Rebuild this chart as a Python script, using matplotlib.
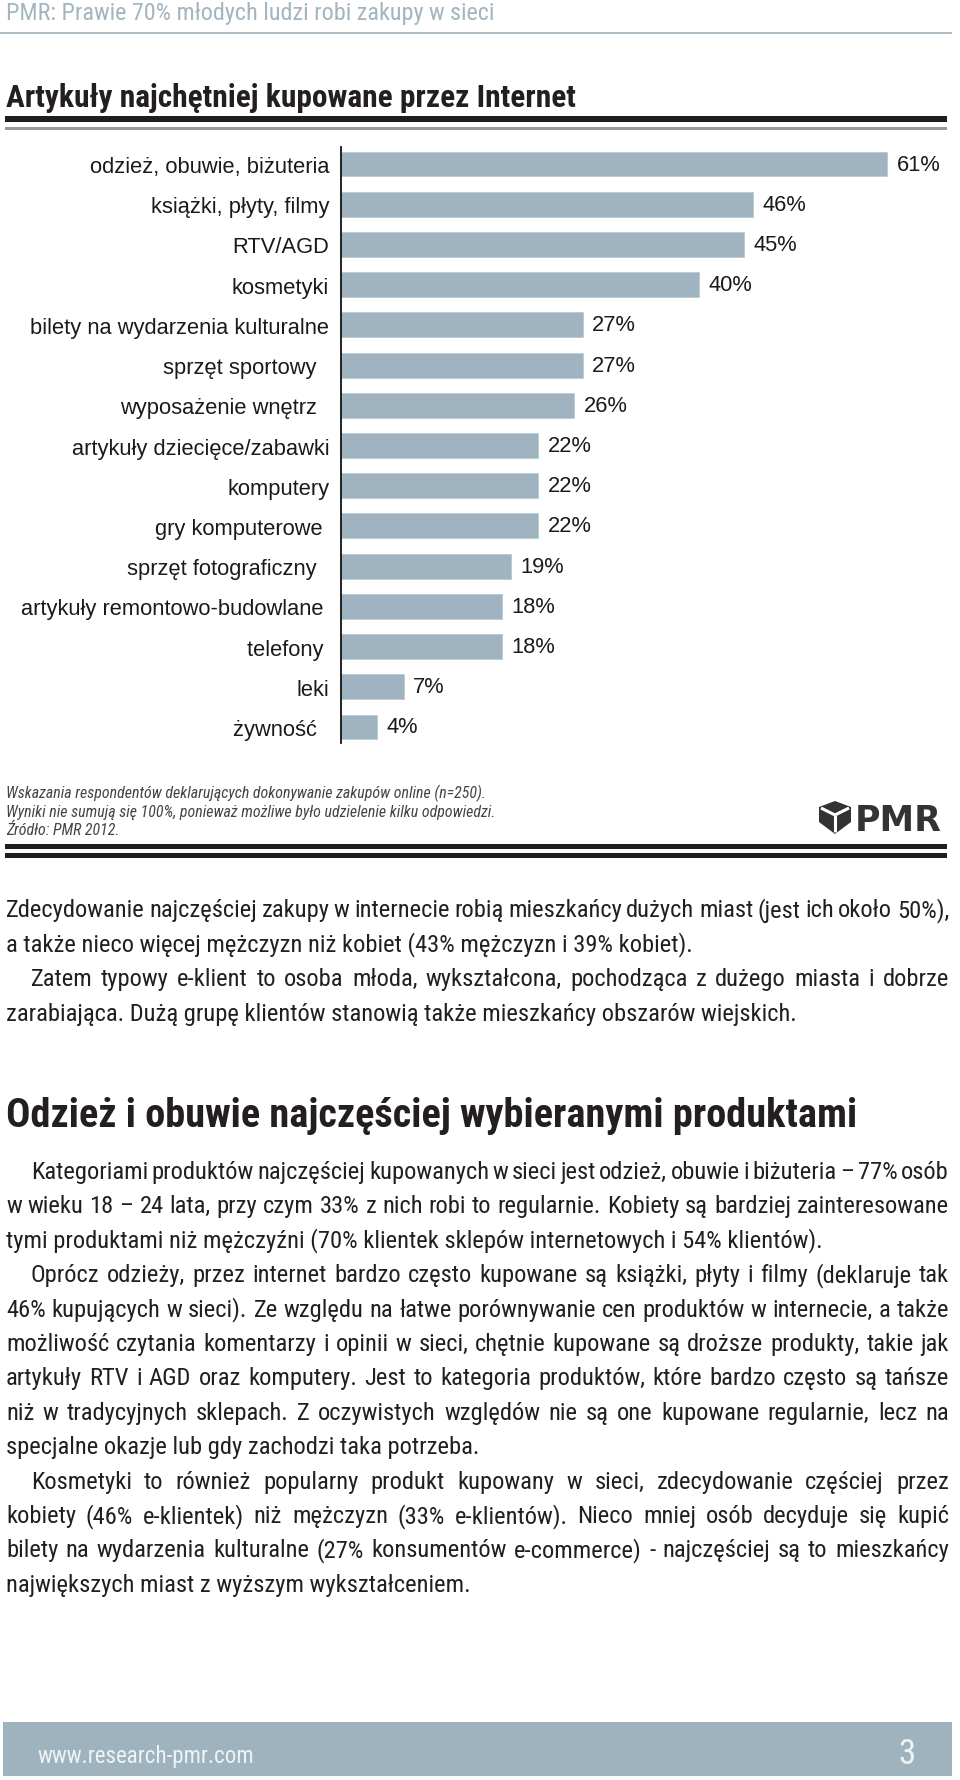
import matplotlib
matplotlib.use('Agg')
import matplotlib.pyplot as plt
from matplotlib import font_manager
from matplotlib.patches import Rectangle, Polygon

W, H = 960, 1781

# chart data
categories = ['odzież, obuwie, biżuteria', 'książki, płyty, filmy', 'RTV/AGD', 'kosmetyki',
              'bilety na wydarzenia kulturalne', 'sprzęt sportowy  ', 'wyposażenie wnętrz  ',
              'artykuły dziecięce/zabawki', 'komputery', 'gry komputerowe ', 'sprzęt fotograficzny  ',
              'artykuły remontowo-budowlane ', 'telefony ', 'leki', 'żywność  ']
values = [61, 46, 45, 40, 27, 27, 26, 22, 22, 22, 19, 18, 18, 7, 4]

header = 'PMR: Prawie 70% młodych ludzi robi zakupy w sieci'
title = 'Artykuły najchętniej kupowane przez Internet'
notes = ['Wskazania respondentów deklarujących dokonywanie zakupów online (n=250).',
         'Wyniki nie sumują się 100%, ponieważ możliwe było udzielenie kilku odpowiedzi.',
         'Źródło: PMR 2012.']
heading2 = 'Odzież i obuwie najczęściej wybieranymi produktami'
footer_url = 'www.research-pmr.com'
page_no = '3'

# paragraphs: (indented first line?, lines)
section1 = [
    (False, ['Zdecydowanie najczęściej zakupy w internecie robią mieszkańcy dużych miast (jest ich około 50%),',
             'a także nieco więcej mężczyzn niż kobiet (43% mężczyzn i 39% kobiet).']),
    (True, ['Zatem typowy e-klient to osoba młoda, wykształcona, pochodząca z dużego miasta i dobrze',
            'zarabiająca. Dużą grupę klientów stanowią także mieszkańcy obszarów wiejskich.']),
]
section2 = [
    (True, ['Kategoriami produktów najczęściej kupowanych w sieci jest odzież, obuwie i biżuteria – 77% osób',
            'w wieku 18 – 24 lata, przy czym 33% z nich robi to regularnie. Kobiety są bardziej zainteresowane',
            'tymi produktami niż mężczyźni (70% klientek sklepów internetowych i 54% klientów).']),
    (True, ['Oprócz odzieży, przez internet bardzo często kupowane są książki, płyty i filmy (deklaruje tak',
            '46% kupujących w sieci). Ze względu na łatwe porównywanie cen produktów w internecie, a także',
            'możliwość czytania komentarzy i opinii w sieci, chętnie kupowane są droższe produkty, takie jak',
            'artykuły RTV i AGD oraz komputery. Jest to kategoria produktów, które bardzo często są tańsze',
            'niż w tradycyjnych sklepach. Z oczywistych względów nie są one kupowane regularnie, lecz na',
            'specjalne okazje lub gdy zachodzi taka potrzeba.']),
    (True, ['Kosmetyki to również popularny produkt kupowany w sieci, zdecydowanie częściej przez',
            'kobiety (46% e-klientek) niż mężczyzn (33% e-klientów). Nieco mniej osób decyduje się kupić',
            'bilety na wydarzenia kulturalne (27% konsumentów e-commerce) - najczęściej są to mieszkańcy',
            'największych miast z wyższym wykształceniem.']),
]

avail = {f.name for f in font_manager.fontManager.ttflist}


def pick(*names):
    for n in names:
        if n in avail:
            return n
    return 'DejaVu Sans'


ARIAL = pick('Liberation Sans', 'Arimo', 'DejaVu Sans')
NARROW = pick('Liberation Sans Narrow', 'Roboto Condensed', 'Open Sans Condensed',
              'DejaVu Sans Condensed', 'Liberation Sans')
plt.rcParams['font.family'] = [ARIAL, 'DejaVu Sans']

BAR = '#9fb4c0'
GREY_BLUE = '#a3b5bf'
INK = '#231f20'

fig = plt.figure(figsize=(W / 100, H / 100), dpi=100)
page = fig.add_axes([0, 0, 1, 1], zorder=0)
page.set_xlim(0, W)
page.set_ylim(H, 0)
page.set_axis_off()
renderer = fig.canvas.get_renderer()


def text_w(s, size, **kw):
    t = page.text(0, 0, s, fontsize=size, **kw)
    w = t.get_window_extent(renderer).width
    t.remove()
    return w


def fit(s, width, **kw):
    return 20 * width / text_w(s, 20, **kw)


def hline(x0, x1, y0, y1, color):
    page.add_patch(Rectangle((x0, y0), x1 - x0, y1 - y0, color=color, lw=0))


# header
hs = fit(header, 488, family=NARROW)
page.text(6, 20, header, fontsize=hs, family=NARROW, color=GREY_BLUE, va='baseline')
hline(0, 952, 33, 35, '#aebdc5')

# chart title and rules
ts = fit(title, 568, family=NARROW, weight='bold')
page.text(6, 107, title, fontsize=ts, family=NARROW, weight='bold', color=INK, va='baseline')
hline(5, 947, 117, 123, '#1e1e1e')
hline(5, 947, 128, 131, '#9a9a9a')

# bar chart
ax = fig.add_axes([341 / W, 1 - 744 / H, 600 / W, (744 - 148) / H], zorder=2)
ax.patch.set_alpha(0)
pos = list(range(len(categories)))
ax.barh(pos, values, height=0.62, color=BAR, edgecolor='#b9c9d2', linewidth=0.6)
ax.set_xlim(0, 600 / 8.95)
ax.set_ylim(14 + 16 / 40.2, -17 / 40.2)
lab_size = fit(categories[0], 239, family=ARIAL)
ax.set_yticks(pos)
ax.set_yticklabels(categories, fontsize=lab_size, color='#1a1a1a')
ax.set_xticks([])
ax.tick_params(axis='y', length=0, pad=8.5)
for s in ['top', 'right', 'bottom']:
    ax.spines[s].set_visible(False)
ax.spines['left'].set_linewidth(1.3)
ax.spines['left'].set_color('#111111')
for p, v in zip(pos, values):
    ax.annotate(f'{v}%', (v, p), xytext=(7, 0), textcoords='offset points',
                va='center', ha='left', fontsize=lab_size, color='#1a1a1a')

# notes under chart
ns = fit(notes[0], 479, family=NARROW, style='italic')
for y, line in zip([798, 817, 835], notes):
    page.text(6, y, line, fontsize=ns, family=NARROW, style='italic', color='#444444', va='baseline')

# PMR logo
page.add_patch(Polygon([(819, 808), (835, 802), (851, 808), (851, 823), (835, 835), (819, 823)],
                       closed=True, color='#333333', lw=0))
for dx, dy in [(-14, -7), (14, -7), (0, 17)]:
    page.plot([835, 835 + dx], [816, 816 + dy], color='white', lw=2.2, solid_capstyle='butt')
page.text(855, 831, 'PMR', fontsize=25, family='DejaVu Sans', weight='bold', color='#333333',
          va='baseline')

hline(5, 947, 845, 850, '#1e1e1e')
hline(5, 947, 854, 859, '#1e1e1e')

# body text
LEFT, INDENT, RIGHT = 6, 31, 949
all_pars = section1 + section2


def line_x0(indent, i):
    return INDENT if (indent and i == 0) else LEFT


# font size chosen so the tightest justified line keeps narrow word gaps
sizes = []
for indent, lines in all_pars:
    for i, line in enumerate(lines[:-1]):
        words = line.split(' ')
        ww = sum(text_w(w, 10, family=NARROW) for w in words)
        sizes.append((RIGHT - line_x0(indent, i)) / (ww / 10 + (len(words) - 1) * 0.16 * 100 / 72))
body = min(sizes)


def draw_par(indent, lines, y, step):
    for i, line in enumerate(lines):
        x0 = line_x0(indent, i)
        if i == len(lines) - 1:
            page.text(x0, y, line, fontsize=body, family=NARROW, color=INK, va='baseline')
        else:
            words = line.split(' ')
            widths = [text_w(w, body, family=NARROW) for w in words]
            gap = (RIGHT - x0 - sum(widths)) / (len(words) - 1)
            x = x0
            for w, wd in zip(words, widths):
                page.text(x, y, w, fontsize=body, family=NARROW, color=INK, va='baseline')
                x += wd + gap
        y += step
    return y


y = 917
for indent, lines in section1:
    y = draw_par(indent, lines, y, 34.5)

h2 = fit(heading2, 848, family=NARROW, weight='bold')
page.text(6, 1127, heading2, fontsize=h2, family=NARROW, weight='bold', color=INK, va='baseline')

y = 1179
for indent, lines in section2:
    y = draw_par(indent, lines, y, 34.4)

# footer band
hline(3, 952, 1723, 1777, '#9eb3bd')
fs = fit(footer_url, 217, family=NARROW)
page.text(37, 1763, footer_url, fontsize=fs, family=NARROW, color='#eef3f5', va='baseline')
page.text(916, 1764, page_no, fontsize=25, family=NARROW, color='#eef3f5', va='baseline', ha='right')

fig.savefig('out.png', dpi=100)
